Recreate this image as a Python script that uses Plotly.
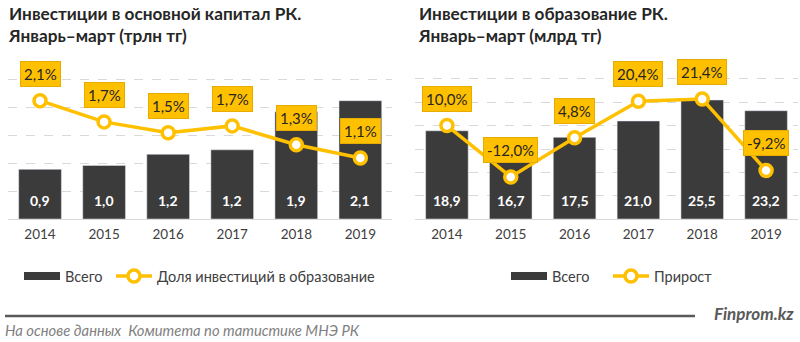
import plotly.graph_objects as go

# ---------------- data ----------------
years = ["2014", "2015", "2016", "2017", "2018", "2019"]
capital_total = [0.89, 0.96, 1.16, 1.24, 1.92, 2.12]          # трлн тг
edu_share = [2.1, 1.73, 1.54, 1.66, 1.33, 1.1]                # %
edu_total = [18.9, 16.7, 17.5, 21.0, 25.5, 23.2]              # млрд тг
edu_growth = [10.0, -12.0, 4.8, 20.4, 21.4, -9.2]             # %

title_left = "Инвестиции в основной капитал РК.<br>Январь–март (трлн тг)"
title_right = "Инвестиции в образование РК.<br>Январь–март (млрд тг)"
legend_bar = "Всего"
legend_line_left = "Доля инвестиций в образование"
legend_line_right = "Прирост"
source = "На основе данных\u00a0 Комитета по татистике МНЭ РК"
brand = "Finprom.kz"

# ---------------- style ----------------
W, H = 800, 342
BAR = "#3b3b3b"
GOLD = "#FFC000"
GRID = "#d9d9d9"
TXT = "#404040"
FONT = "Lato"


def px(x):
    return x / W


def py(y):
    return 1 - y / H


def fmt(v, pct=False):
    s = f"{v:.1f}".replace(".", ",")
    return s + "%" if pct else s


fig = go.Figure()


def add_panel(xa, ya_bar, ya_line, bars, line, line_name, leg_bar, leg_line):
    fig.add_trace(go.Bar(x=years, y=bars, name=legend_bar, marker_color=BAR,
                         xaxis=xa, yaxis=ya_bar, showlegend=False, hoverinfo="skip"))
    # legend proxy for the bar series (wide flat swatch like the original)
    fig.add_trace(go.Scatter(x=[None], y=[None], name=legend_bar, mode="lines",
                             line=dict(color=BAR, width=8), xaxis=xa, yaxis=ya_bar,
                             legend=leg_bar, showlegend=True))
    fig.add_trace(go.Scatter(x=years, y=line, name=line_name, mode="lines+markers",
                             line=dict(color=GOLD, width=3.5),
                             marker=dict(size=12, color="white", line=dict(color=GOLD, width=3.5)),
                             xaxis=xa, yaxis=ya_line, legend=leg_line, cliponaxis=False))


add_panel("x", "y", "y2", capital_total, edu_share, legend_line_left, "legend", "legend2")
add_panel("x2", "y3", "y4", edu_total, edu_growth, legend_line_right, "legend3", "legend4")

ydom = [py(219), py(65)]

xcommon = dict(type="category", range=[-0.5, len(years) - 0.5], autorange=False,
               showgrid=False, showline=True, linecolor=GRID, linewidth=1,
               ticks="", ticklabelstandoff=3, tickfont=dict(family=FONT, size=13.5, color=TXT),
               fixedrange=True)
ycommon = dict(showticklabels=False, showline=False, zeroline=False, ticks="",
               gridcolor=GRID, griddash="dash", gridwidth=1, fixedrange=True, autorange=False)

legcommon = dict(orientation="h", xanchor="left", yanchor="middle", y=py(276),
                 font=dict(family=FONT, size=14.5, color=TXT), bgcolor="rgba(0,0,0,0)",
                 itemwidth=36)

fig.update_layout(
    width=W, height=H, margin=dict(l=0, r=0, t=0, b=0),
    paper_bgcolor="white", plot_bgcolor="white",
    bargap=0.333,
    xaxis=dict(domain=[px(8), px(392.4)], anchor="y", **xcommon),
    yaxis=dict(domain=ydom, anchor="x", range=[0, 154 / 55.8], dtick=0.5, **ycommon),
    yaxis2=dict(overlaying="y", anchor="x", range=[0.035, 0.035 + 154 / 57.3],
                autorange=False, visible=False),
    xaxis2=dict(domain=[px(415), px(798)], anchor="y3", **xcommon),
    yaxis3=dict(domain=ydom, anchor="x2", range=[0, 154 / 4.667], dtick=5, **ycommon),
    yaxis4=dict(overlaying="y3", anchor="x2", range=[-30, -30 + 154 / 2.335],
                autorange=False, visible=False),
    legend=dict(x=px(19), **legcommon),
    legend2=dict(x=px(111), **legcommon),
    legend3=dict(x=px(506), **legcommon),
    legend4=dict(x=px(608), **legcommon),
    font=dict(family=FONT),
)

ann = []
# titles
for t, x0 in ((title_left, 6), (title_right, 416)):
    ann.append(dict(text=f"<b>{t}</b>", xref="paper", yref="paper", x=px(x0), y=py(1),
                    xanchor="left", yanchor="top", showarrow=False, align="left",
                    font=dict(family=FONT, size=17.2, color="#262626")))

# value labels inside bars (x given as category index)
for xr, yr, vals in (("x", "y", capital_total), ("x2", "y3", edu_total)):
    for i, v in enumerate(vals):
        ann.append(dict(text=f"<b>{fmt(v)}</b>", x=i, y=0, xref=xr, yref=yr,
                        yanchor="bottom", yshift=8, showarrow=False,
                        font=dict(family=FONT, size=14, color="white")))

# yellow callouts for line values
for xr, yr, vals in (("x", "y2", edu_share), ("x2", "y4", edu_growth)):
    for i, v in enumerate(vals):
        ann.append(dict(text=fmt(v, True), x=i, y=v, xref=xr, yref=yr,
                        yanchor="bottom", yshift=14, showarrow=False,
                        bgcolor=GOLD, borderpad=3, bordercolor="#e6ad00", borderwidth=1,
                        font=dict(family=FONT, size=15, color="#262626")))

# footer
ann.append(dict(text=f"<b><i>{brand}</i></b>", xref="paper", yref="paper", x=px(796), y=py(313),
                xanchor="right", yanchor="middle", showarrow=False,
                font=dict(family=FONT, size=17, color="#595959")))
ann.append(dict(text=f"<i>{source}</i>", xref="paper", yref="paper", x=px(3), y=py(330),
                xanchor="left", yanchor="middle", showarrow=False,
                font=dict(family=FONT, size=14.8, color="#7f7f7f")))

fig.update_layout(annotations=ann)
fig.add_shape(type="line", xref="paper", yref="paper", x0=px(5), x1=px(695), y0=py(316), y1=py(316),
              line=dict(color="#595959", width=2.5))

fig.write_html("out.html")
